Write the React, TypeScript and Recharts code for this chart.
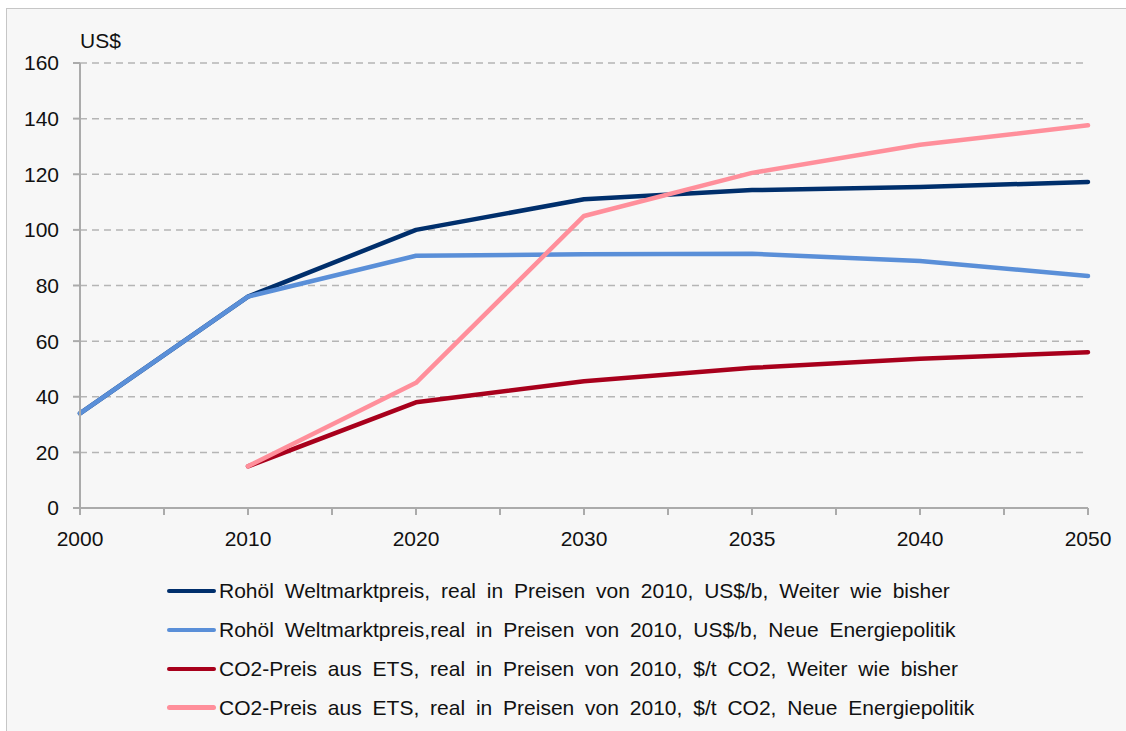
import React from 'react';
import { LineChart, Line, XAxis, YAxis, CartesianGrid } from 'recharts';

const years = ['2000', '2010', '2020', '2030', '2035', '2040', '2050'];
const oilBusiness = [34, 76, 100, 111, 114.3, 115.4, 117.2];
const oilNewPolicy = [34, 76, 90.7, 91.2, 91.4, 88.8, 83.4];
const co2Business = [null, 15, 38, 45.6, 50.4, 53.7, 56];
const co2NewPolicy = [null, 15, 45, 105, 120.5, 130.6, 137.6];
const yTicks = [0, 20, 40, 60, 80, 100, 120, 140, 160];
const xTicks = [0, 0.5, 1, 1.5, 2, 2.5, 3, 3.5, 4, 4.5, 5, 5.5, 6];

const seriesNames = [
  'Rohöl Weltmarktpreis, real in Preisen von 2010, US$/b, Weiter wie bisher',
  'Rohöl Weltmarktpreis,real in Preisen von 2010, US$/b, Neue Energiepolitik',
  'CO2-Preis aus ETS, real in Preisen von 2010, $/t CO2, Weiter wie bisher',
  'CO2-Preis aus ETS, real in Preisen von 2010, $/t CO2, Neue Energiepolitik',
];
const seriesColors = ['#002f6c', '#5a8fd8', '#a8001c', '#ff8f9b'];
const seriesKeys = ['oilBusiness', 'oilNewPolicy', 'co2Business', 'co2NewPolicy'];

const data = years.map((y, i) => ({
  x: i,
  year: y,
  oilBusiness: oilBusiness[i],
  oilNewPolicy: oilNewPolicy[i],
  co2Business: co2Business[i],
  co2NewPolicy: co2NewPolicy[i],
}));

const FONT = '"Liberation Sans", Arial, Helvetica, sans-serif';

export default function App() {
  return (
    <div style={{ position: 'absolute', left: 0, top: 0, width: 1126, height: 731, background: '#ffffff', overflow: 'hidden', fontFamily: FONT }}>
      <div style={{ position: 'absolute', left: 6, top: 8, width: 1140, height: 740, background: '#f7f7f7', border: '1px solid #c6c6c6' }} />
      <div style={{ position: 'absolute', left: 0, top: 0 }}>
        <LineChart width={1126} height={731} data={data} margin={{ top: 63, right: 38, bottom: 192, left: 0 }}>
          <CartesianGrid horizontal vertical={false} stroke="#b5b5b5" strokeWidth={1.5} strokeDasharray="7 5" />
          <XAxis
            dataKey="x"
            type="number"
            domain={[0, 6]}
            ticks={xTicks}
            interval={0}
            height={31}
            tickFormatter={(v: number) => (Number.isInteger(v) ? years[v] : '')}
            stroke="#ababab"
            strokeWidth={2}
            tickSize={7}
            tickMargin={16}
            tick={{ fill: '#111111', fontSize: 21, fontFamily: FONT }}
          />
          <YAxis
            domain={[0, 160]}
            ticks={yTicks}
            interval={0}
            width={80}
            stroke="#ababab"
            strokeWidth={2}
            tickSize={7}
            tickMargin={14}
            tick={{ fill: '#111111', fontSize: 21, fontFamily: FONT }}
          />
          {seriesKeys.map((k, i) => (
            <Line
              key={k}
              type="linear"
              dataKey={k}
              stroke={seriesColors[i]}
              strokeWidth={4.5}
              strokeLinecap="round"
              strokeLinejoin="round"
              dot={false}
              activeDot={false}
              isAnimationActive={false}
            />
          ))}
        </LineChart>
      </div>
      <div style={{ position: 'absolute', left: 80, top: 29, fontSize: 21, color: '#111', lineHeight: '24px' }}>US$</div>
      {seriesNames.map((n, i) => (
        <div key={n} style={{ position: 'absolute', left: 167, top: 591 + i * 38.9 - 12, height: 24, display: 'flex', alignItems: 'center', whiteSpace: 'pre' }}>
          <div style={{ width: 49, height: 4.5, borderRadius: 3, background: seriesColors[i], marginRight: 3 }} />
          <span style={{ fontSize: 21, color: '#111', lineHeight: '24px', wordSpacing: 5 }}>{n}</span>
        </div>
      ))}
    </div>
  );
}
